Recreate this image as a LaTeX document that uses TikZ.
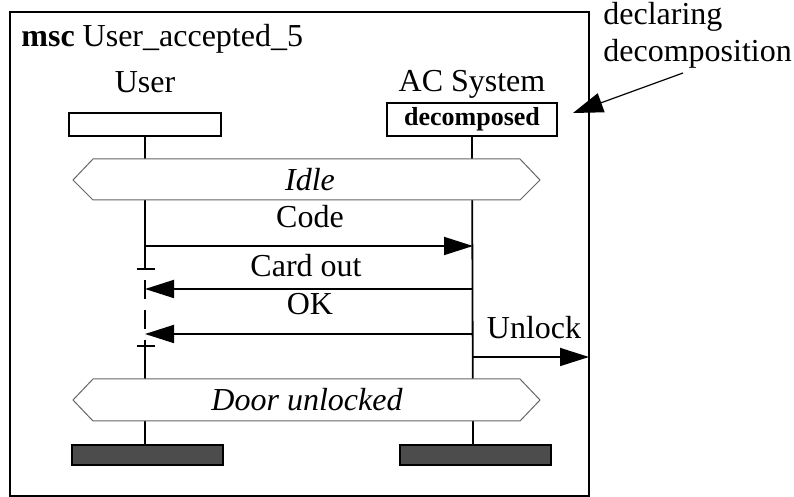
\documentclass[tikz,border=0pt]{standalone}
\usepackage{fontspec}
\setmainfont{Liberation Serif}
\usetikzlibrary{arrows.meta, positioning}

\begin{document}
\begin{tikzpicture}[
    x=0.5pt, y=-0.5pt,
    frame/.style={draw=black, line width=1.1pt},
    headbox/.style={draw=black, line width=1pt, fill=white, inner sep=0pt},
    endbox/.style={draw=black, line width=1pt, fill=black!70, minimum width=75.5pt, minimum height=10pt, inner sep=0pt},
    cond/.style={draw=black!60, line width=0.5pt, fill=white},
    lifeline/.style={line width=0.9pt},
    msg/.style={-{Triangle[length=14.5pt, width=9pt]}, line width=0.9pt},
    lbl/.style={font=\fontsize{16}{19}\selectfont, inner sep=0pt}
]
\useasboundingbox (0,0) rectangle (794,497);

% frame and title
\draw[frame] (10,12) rectangle (589,496);
\node[lbl, anchor=base west] (title) at (21,47) {\textbf{msc} User\_accepted\_5};

% instance heads
\node[lbl, anchor=base] (username) at (145,93) {User};
\node[lbl, anchor=base] (acname) at (472,92) {AC System};
\node[headbox, minimum width=76pt, minimum height=11.5pt] (userhead) at (145,124.5) {};
\node[headbox, minimum width=85pt, minimum height=16.5pt, font=\fontsize{13}{15}\selectfont\bfseries] (achead) at (472,119.5) {decomposed};

% instance ends
\node[endbox] (userend) at (147.5,455) {};
\node[endbox] (acend) at (475.5,455) {};

% lifelines
\coordinate (cotop) at (145,269);
\coordinate (cobot) at (145,346);
\draw[lifeline] (userhead.south) -- (cotop);
\draw[lifeline, dash pattern=on 9.5pt off 5.5pt, dash phase=9.5pt] (cotop) -- (cobot);
\draw[lifeline] (cobot) -- (145,445);
\draw[lifeline] (137,269) -- (155,269);
\draw[lifeline] (137,346) -- (155,346);
\draw[lifeline] (achead.south) -- (473,445);

% conditions
\draw[cond] (73,180) -- (93,159) -- (520,159) -- (540,180) -- (520,200) -- (93,200) -- cycle;
\node[lbl, font=\fontsize{16}{19}\selectfont\itshape] (idle) at (310,180) {Idle};
\draw[cond] (73,400) -- (93,379) -- (520,379) -- (540,400) -- (520,421) -- (93,421) -- cycle;
\node[lbl, font=\fontsize{16}{19}\selectfont\itshape] (doorunl) at (307,400) {Door unlocked};

% messages
\coordinate (code1) at (145,246);
\coordinate (code2) at (473,246);
\coordinate (card1) at (473,289);
\coordinate (card2) at (145,289);
\coordinate (ok1) at (473,334);
\coordinate (ok2) at (145,334);
\coordinate (unl1) at (473,357);
\coordinate (unl2) at (589,357);
\draw[msg] (code1) -- (code2);
\draw[msg] (card1) -- (card2);
\draw[msg] (ok1) -- (ok2);
\draw[msg] (unl1) -- (unl2);
\node[lbl, anchor=base] (codelbl) at (310,228) {Code};
\node[lbl, anchor=base] (cardlbl) at (306,277) {Card out};
\node[lbl, anchor=base] (oklbl) at (310,315) {OK};
\node[lbl, anchor=base] (unllbl) at (534,339) {Unlock};

% comment
\node[lbl, anchor=base west] (decl) at (603,25) {declaring};
\node[lbl, anchor=base west] (decomp) at (603,62) {decomposition};
\coordinate (notetail) at (683,73);
\coordinate (notetip) at (573,113);
\draw[-{Triangle[length=15pt, width=10pt]}, line width=0.6pt] (notetail) -- (notetip);
\end{tikzpicture}
\end{document}
